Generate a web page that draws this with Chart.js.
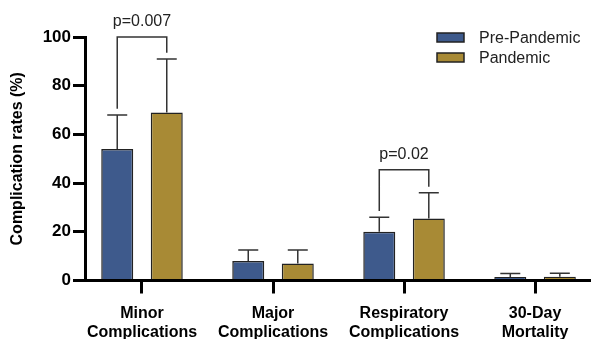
<!DOCTYPE html>
<html>
<head>
<meta charset="utf-8">
<script src="https://cdn.jsdelivr.net/npm/chart.js@4.4.0/dist/chart.umd.min.js"></script>
<style>
  html, body { margin: 0; padding: 0; background: #fff; overflow: hidden; }
  #wrap { width: 591px; height: 339px; }
</style>
</head>
<body>
<div id="wrap"><canvas id="grafico" width="591" height="339"></canvas></div>
<script>
// datos
const categorias = [['Minor', 'Complications'], ['Major', 'Complications'], ['Respiratory', 'Complications'], ['30-Day', 'Mortality']];
const seriesNombres = ['Pre-Pandemic', 'Pandemic'];
const prePandemia = [54, 8, 20, 1.4];
const pandemia = [69, 7, 25.5, 1.5];
const preSD = [14, 4.5, 6, 1.5];
const pandemiaSD = [22, 5.5, 10.5, 1.5];
const yTicks = [0, 20, 40, 60, 80, 100];
const comparaciones = [
    { cat: 0, texto: 'p=0.007', nivel: 100 },
    { cat: 2, texto: 'p=0.02', nivel: 45.5 }
];

const colores = ['#3e5a8c', '#a88a35'];
const FUENTE = '"Liberation Sans", Arial, Helvetica, sans-serif';
const sds = [preSD, pandemiaSD];

const errorBars = {
    id: 'errorBars',
    afterDatasetsDraw(chart) {
        const { ctx, scales: { y } } = chart;
        ctx.save();
        ctx.strokeStyle = '#333';
        ctx.lineWidth = 1.5;
        chart.data.datasets.forEach((ds, di) => {
            chart.getDatasetMeta(di).data.forEach((bar, i) => {
                const top = y.getPixelForValue(ds.data[i].y + sds[di][i]);
                ctx.beginPath();
                ctx.moveTo(bar.x, bar.y);
                ctx.lineTo(bar.x, top);
                ctx.moveTo(bar.x - 10, top);
                ctx.lineTo(bar.x + 10, top);
                ctx.stroke();
            });
        });

        // corchetes de significancia
        const m0 = chart.getDatasetMeta(0).data;
        const m1 = chart.getDatasetMeta(1).data;
        comparaciones.forEach(c => {
            const xA = m0[c.cat].x, xB = m1[c.cat].x;
            const yLinea = y.getPixelForValue(c.nivel);
            const yA = y.getPixelForValue(prePandemia[c.cat] + preSD[c.cat] + 2.5);
            const yB = y.getPixelForValue(pandemia[c.cat] + pandemiaSD[c.cat] + 2.5);
            ctx.beginPath();
            ctx.moveTo(xA, yA);
            ctx.lineTo(xA, yLinea);
            ctx.lineTo(xB, yLinea);
            ctx.lineTo(xB, yB);
            ctx.stroke();
            ctx.fillStyle = '#222';
            ctx.font = `16px ${FUENTE}`;
            ctx.textAlign = 'center';
            ctx.textBaseline = 'alphabetic';
            ctx.fillText(c.texto, (xA + xB) / 2, yLinea - 11);
        });
        ctx.restore();
    }
};

const leyenda = {
    id: 'leyenda',
    afterDraw(chart) {
        const { ctx } = chart;
        ctx.save();
        seriesNombres.forEach((nombre, i) => {
            const yc = 37.5 + i * 20;
            ctx.fillStyle = colores[i];
            ctx.fillRect(437, yc - 4.5, 27, 9);
            ctx.strokeStyle = '#222';
            ctx.lineWidth = 1.5;
            ctx.strokeRect(437, yc - 4.5, 27, 9);
            ctx.fillStyle = '#222';
            ctx.font = `16px ${FUENTE}`;
            ctx.textAlign = 'left';
            ctx.textBaseline = 'middle';
            ctx.fillText(nombre, 479, yc + 1);
        });
        ctx.restore();
    }
};

const ctx = document.getElementById('grafico').getContext('2d');
new Chart(ctx, {
    type: 'bar',
    data: {
        datasets: [
            { label: seriesNombres[0], data: prePandemia.map((v, i) => ({ x: i, y: v })), backgroundColor: colores[0] },
            { label: seriesNombres[1], data: pandemia.map((v, i) => ({ x: i, y: v })), backgroundColor: colores[1] }
        ]
    },
    options: {
        responsive: false,
        animation: false,
        devicePixelRatio: 1,
        layout: { padding: { top: 37, left: 0, right: 0, bottom: 0 } },
        datasets: {
            bar: { borderColor: '#222', borderWidth: 1.5, categoryPercentage: 0.756, barPercentage: 0.646 }
        },
        plugins: { legend: { display: false }, tooltip: { enabled: false } },
        scales: {
            x: {
                type: 'linear',
                offset: false,
                min: -0.435,
                max: 3.427,
                afterBuildTicks: s => { s.ticks = categorias.map((_, i) => ({ value: i })); },
                afterFit: s => { s.height = 58.5; },
                ticks: {
                    callback: (v, i) => categorias[i],
                    font: { family: FUENTE, size: 16, weight: 'bold', lineHeight: 1.2 },
                    color: '#000',
                    padding: 10,
                    maxRotation: 0,
                    autoSkip: false
                },
                grid: { drawOnChartArea: false, offset: false, tickLength: 13, lineWidth: 3, color: '#000' },
                border: { width: 3, color: '#000' }
            },
            y: {
                min: 0,
                max: 100,
                afterBuildTicks: s => { s.ticks = yTicks.map(v => ({ value: v })); },
                afterFit: s => { s.width = 85; },
                ticks: {
                    font: { family: FUENTE, size: 17, weight: 'bold' },
                    color: '#000',
                    padding: 2
                },
                grid: { drawOnChartArea: false, tickLength: 12, lineWidth: 3, color: '#000' },
                border: { width: 3, color: '#000' },
                title: {
                    display: true,
                    text: 'Complication rates (%)',
                    font: { family: FUENTE, size: 16, weight: 'bold' },
                    color: '#000',
                    padding: { top: 8, bottom: 0 }
                }
            }
        }
    },
    plugins: [errorBars, leyenda]
});
</script>
</body>
</html>
